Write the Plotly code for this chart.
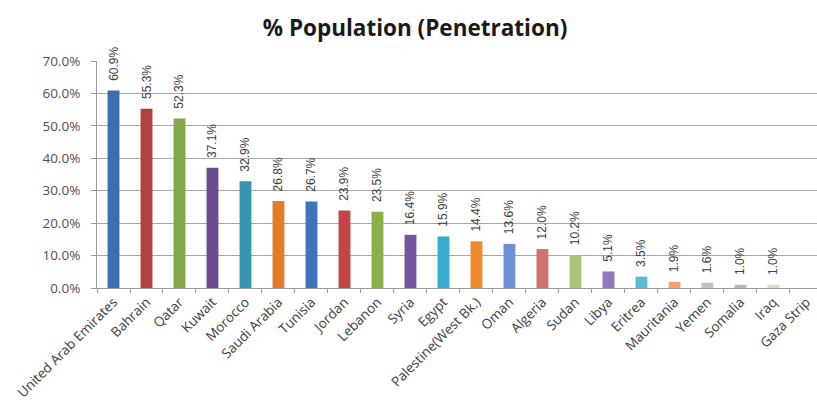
import plotly.graph_objects as go

countries = [
    "United Arab Emirates", "Bahrain", "Qatar", "Kuwait", "Morocco",
    "Saudi Arabia", "Tunisia", "Jordan", "Lebanon", "Syria", "Egypt",
    "Palestine(West Bk.)", "Oman", "Algeria", "Sudan", "Libya", "Eritrea",
    "Mauritania", "Yemen", "Somalia", "Iraq", "Gaza Strip",
]
penetration = [
    0.609, 0.553, 0.523, 0.371, 0.329, 0.268, 0.267, 0.239, 0.235, 0.164,
    0.159, 0.144, 0.136, 0.120, 0.102, 0.051, 0.035, 0.019, 0.016, 0.010,
    0.010, None,
]
bar_colors = [
    "#3E6DB0", "#B0413E", "#84A64A", "#6B4C91", "#3595B3", "#E27E2A",
    "#3E75BA", "#C24643", "#8CB04C", "#7555A0", "#3AAACF", "#F08A2C",
    "#6F90D0", "#CF7370", "#A9C47A", "#9078BC", "#5BBAD6", "#F5A36A",
    "#C0C0C8", "#B8B8BE", "#D8DCC0", "#CCCCCC",
]
y_ticks = [0.0, 0.1, 0.2, 0.3, 0.4, 0.5, 0.6, 0.7]

fig = go.Figure(
    go.Bar(
        x=countries,
        y=penetration,
        marker=dict(color=bar_colors, line=dict(width=0)),
        # leading no-break spaces keep the rotated labels clear of the bar tops
        texttemplate="\u00a0\u00a0%{y:.1%}",
        textposition="outside",
        textangle=-90,
        constraintext="none",
        cliponaxis=False,
        textfont=dict(family="Liberation Sans", size=12, color="#404040"),
        hoverinfo="skip",
    )
)

fig.update_layout(
    width=817,
    height=412,
    margin=dict(l=97, r=0, t=61, b=124),
    paper_bgcolor="white",
    plot_bgcolor="white",
    bargap=0.64,
    showlegend=False,
    title=dict(
        text="<b>% Population (Penetration)</b>",
        x=0.508,
        xanchor="center",
        y=0.932,
        yanchor="middle",
        font=dict(family="Open Sans", size=22.5, color="#1a1a1a"),
    ),
)

fig.update_xaxes(
    type="category",
    range=[-0.5, 21.32],
    tickangle=-45,
    tickson="boundaries",
    ticks="outside",
    ticklen=4,
    tickcolor="#9a9a9a",
    showline=True,
    linecolor="#9a9a9a",
    linewidth=1,
    showgrid=False,
    tickfont=dict(family="Open Sans", size=13.5, color="#404040"),
)

fig.update_yaxes(
    range=[0, 0.7],
    tickvals=y_ticks,
    tickformat=".1%",
    ticks="outside",
    ticklen=5,
    tickcolor="#9a9a9a",
    ticklabelstandoff=8,
    showline=True,
    linecolor="#9a9a9a",
    linewidth=1,
    showgrid=True,
    gridcolor="#a8a8a8",
    gridwidth=1.3,
    zeroline=False,
    tickfont=dict(family="Open Sans", size=13.5, color="#505050"),
)

fig.write_html("out.html")
